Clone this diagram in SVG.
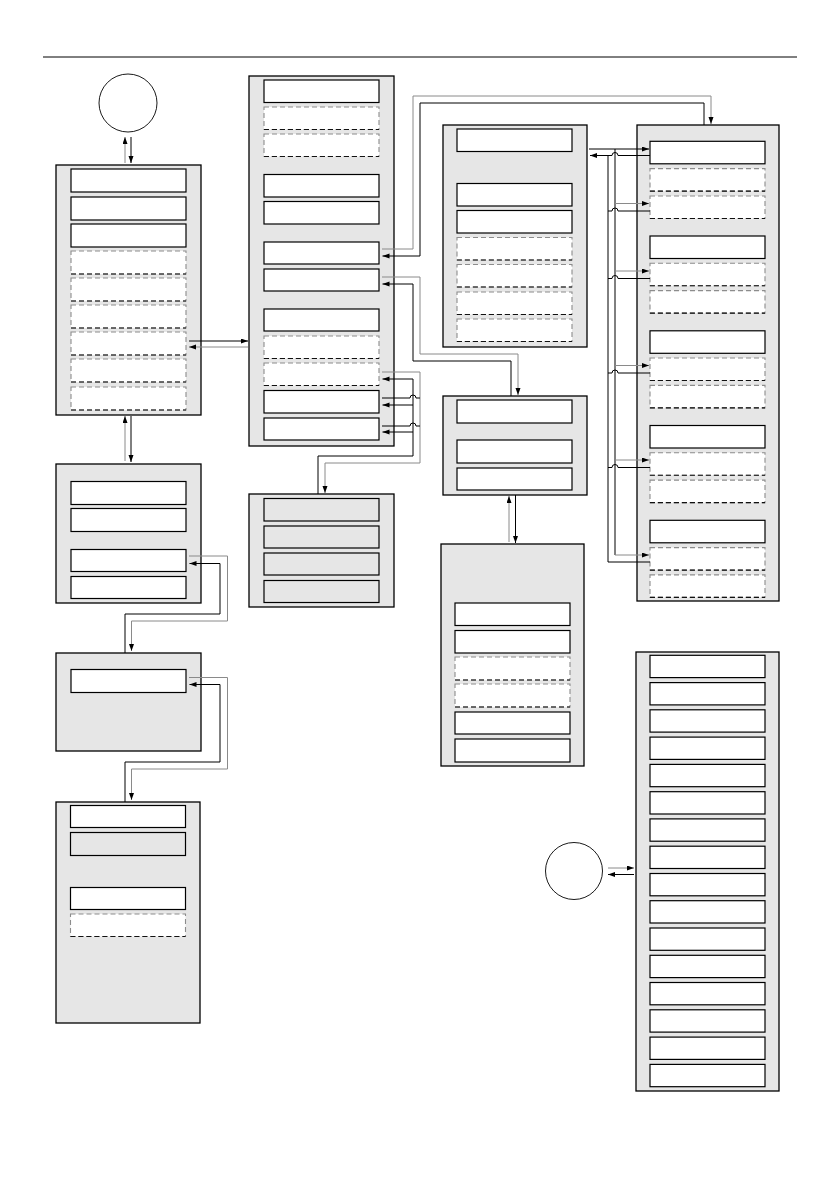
<svg xmlns="http://www.w3.org/2000/svg" width="840" height="1190" viewBox="0 0 840 1190">
<defs>
<marker id="ah" markerUnits="userSpaceOnUse" markerWidth="8" markerHeight="6" refX="7" refY="2.5" orient="auto">
<path d="M0,0 L7,2.5 L0,5 z" fill="#000"/>
</marker>
</defs>
<style>
.box{fill:#e6e6e6;stroke:#000;stroke-width:1.3}
.s{fill:#fff;stroke:#000;stroke-width:1.2}
.sg{fill:#e6e6e6;stroke:#000;stroke-width:1.2}
.d{fill:#fff;stroke:#8c8c8c;stroke-width:1.1;stroke-dasharray:5 3}
.db{stroke:#111;stroke-width:1.1;stroke-dasharray:5 3}
.c{fill:#fff;stroke:#000;stroke-width:0.9}
.k{fill:none;stroke:#000;stroke-width:1}
.g{fill:none;stroke:#8a8a8a;stroke-width:1}
.a{marker-end:url(#ah)}
</style>
<rect width="840" height="1190" fill="#fff"/>
<line x1="43" y1="57" x2="797" y2="57" stroke="#000" stroke-width="1"/>

<g id="circle1"><circle class="c" cx="128" cy="103" r="29"/></g>

<g id="boxA">
<rect class="box" x="56" y="165" width="145" height="250"/>
<rect class="s" x="71" y="169" width="115" height="23"/>
<rect class="s" x="71" y="197" width="115" height="23"/>
<rect class="s" x="71" y="224" width="115" height="23"/>
<rect class="d" x="71" y="251" width="115" height="23"/><line class="db" x1="71" y1="274" x2="186" y2="274"/>
<rect class="d" x="71" y="278" width="115" height="23"/><line class="db" x1="71" y1="301" x2="186" y2="301"/>
<rect class="d" x="71" y="305" width="115" height="23"/><line class="db" x1="71" y1="328" x2="186" y2="328"/>
<rect class="d" x="71" y="332" width="115" height="23"/><line class="db" x1="71" y1="355" x2="186" y2="355"/>
<rect class="d" x="71" y="359" width="115" height="23"/><line class="db" x1="71" y1="382" x2="186" y2="382"/>
<rect class="d" x="71" y="387" width="115" height="23"/><line class="db" x1="71" y1="410" x2="186" y2="410"/>
</g>

<g id="boxB">
<rect class="box" x="249" y="76" width="145" height="370"/>
<rect class="s" x="264" y="80" width="115" height="22.5"/>
<rect class="d" x="264" y="107" width="115" height="22.5"/><line class="db" x1="264" y1="129.5" x2="379" y2="129.5"/>
<rect class="d" x="264" y="134" width="115" height="22.5"/><line class="db" x1="264" y1="156.5" x2="379" y2="156.5"/>
<rect class="s" x="264" y="174.5" width="115" height="22.5"/>
<rect class="s" x="264" y="201.5" width="115" height="22.5"/>
<rect class="s" x="264" y="242" width="115" height="22"/>
<rect class="s" x="264" y="269" width="115" height="22"/>
<rect class="s" x="264" y="309" width="115" height="22"/>
<rect class="d" x="264" y="336" width="115" height="22.5"/><line class="db" x1="264" y1="358.5" x2="379" y2="358.5"/>
<rect class="d" x="264" y="363" width="115" height="22.5"/><line class="db" x1="264" y1="385.5" x2="379" y2="385.5"/>
<rect class="s" x="264" y="390.5" width="115" height="22.5"/>
<rect class="s" x="264" y="418" width="115" height="22"/>
</g>

<g id="boxC">
<rect class="box" x="249" y="494" width="145" height="113"/>
<rect class="sg" x="264" y="498.5" width="115" height="22.5"/>
<rect class="sg" x="264" y="526" width="115" height="22"/>
<rect class="sg" x="264" y="553" width="115" height="22"/>
<rect class="sg" x="264" y="580.5" width="115" height="22"/>
</g>

<g id="boxG">
<rect class="box" x="443" y="125" width="144" height="222"/>
<rect class="s" x="457" y="129" width="115" height="22.5"/>
<rect class="s" x="457" y="183.5" width="115" height="22.5"/>
<rect class="s" x="457" y="210.5" width="115" height="22.5"/>
<rect class="d" x="457" y="237.5" width="115" height="22.5"/><line class="db" x1="457" y1="260" x2="572" y2="260"/>
<rect class="d" x="457" y="264.5" width="115" height="22.5"/><line class="db" x1="457" y1="287" x2="572" y2="287"/>
<rect class="d" x="457" y="292" width="115" height="22.5"/><line class="db" x1="457" y1="314.5" x2="572" y2="314.5"/>
<rect class="d" x="457" y="319" width="115" height="22.5"/><line class="db" x1="457" y1="341.5" x2="572" y2="341.5"/>
</g>

<g id="boxD">
<rect class="box" x="443" y="396" width="144" height="99"/>
<rect class="s" x="457" y="400" width="115" height="23"/>
<rect class="s" x="457" y="440" width="115" height="23"/>
<rect class="s" x="457" y="468" width="115" height="22"/>
</g>

<g id="boxF">
<rect class="box" x="441" y="544" width="143" height="222"/>
<rect class="s" x="455" y="603" width="115" height="22.5"/>
<rect class="s" x="455" y="630.5" width="115" height="22.5"/>
<rect class="d" x="455" y="657" width="115" height="23"/><line class="db" x1="455" y1="680" x2="570" y2="680"/>
<rect class="d" x="455" y="684" width="115" height="23"/><line class="db" x1="455" y1="707" x2="570" y2="707"/>
<rect class="s" x="455" y="712" width="115" height="22"/>
<rect class="s" x="455" y="739" width="115" height="23"/>
</g>

<g id="boxE">
<rect class="box" x="637" y="125" width="142" height="476"/>
<rect class="s" x="650" y="141.3" width="115" height="22.5"/>
<rect class="d" x="650" y="168.6" width="115" height="22.5"/><line class="db" x1="650" y1="191.1" x2="765" y2="191.1"/>
<rect class="d" x="650" y="196" width="115" height="22.5"/><line class="db" x1="650" y1="218.5" x2="765" y2="218.5"/>
<rect class="s" x="650" y="236" width="115" height="22.5"/>
<rect class="d" x="650" y="263.3" width="115" height="22.5"/><line class="db" x1="650" y1="285.8" x2="765" y2="285.8"/>
<rect class="d" x="650" y="290.6" width="115" height="22.5"/><line class="db" x1="650" y1="313.1" x2="765" y2="313.1"/>
<rect class="s" x="650" y="330.8" width="115" height="22.5"/>
<rect class="d" x="650" y="358" width="115" height="22.5"/><line class="db" x1="650" y1="380.5" x2="765" y2="380.5"/>
<rect class="d" x="650" y="385.4" width="115" height="22.5"/><line class="db" x1="650" y1="407.9" x2="765" y2="407.9"/>
<rect class="s" x="650" y="425.5" width="115" height="22.5"/>
<rect class="d" x="650" y="452.8" width="115" height="22.5"/><line class="db" x1="650" y1="475.3" x2="765" y2="475.3"/>
<rect class="d" x="650" y="480.1" width="115" height="22.5"/><line class="db" x1="650" y1="502.6" x2="765" y2="502.6"/>
<rect class="s" x="650" y="520.3" width="115" height="22.5"/>
<rect class="d" x="650" y="547.6" width="115" height="22.5"/><line class="db" x1="650" y1="570.1" x2="765" y2="570.1"/>
<rect class="d" x="650" y="574.9" width="115" height="22.5"/><line class="db" x1="650" y1="597.4" x2="765" y2="597.4"/>
</g>

<g id="boxH">
<rect class="box" x="636" y="652" width="143" height="439"/>
<rect class="s" x="650" y="655.3" width="115" height="22.3"/>
<rect class="s" x="650" y="682.6" width="115" height="22.3"/>
<rect class="s" x="650" y="709.8" width="115" height="22.3"/>
<rect class="s" x="650" y="737.1" width="115" height="22.3"/>
<rect class="s" x="650" y="764.4" width="115" height="22.3"/>
<rect class="s" x="650" y="791.7" width="115" height="22.3"/>
<rect class="s" x="650" y="818.9" width="115" height="22.3"/>
<rect class="s" x="650" y="846.2" width="115" height="22.3"/>
<rect class="s" x="650" y="873.5" width="115" height="22.3"/>
<rect class="s" x="650" y="900.7" width="115" height="22.3"/>
<rect class="s" x="650" y="928" width="115" height="22.3"/>
<rect class="s" x="650" y="955.3" width="115" height="22.3"/>
<rect class="s" x="650" y="982.5" width="115" height="22.3"/>
<rect class="s" x="650" y="1009.8" width="115" height="22.3"/>
<rect class="s" x="650" y="1037.1" width="115" height="22.3"/>
<rect class="s" x="650" y="1064.4" width="115" height="22.3"/>
</g>

<g id="circle2"><circle class="c" cx="574" cy="871" r="28.5"/></g>

<g id="boxJ">
<rect class="box" x="56" y="464" width="145" height="139"/>
<rect class="s" x="71" y="481.5" width="115" height="23"/>
<rect class="s" x="71" y="508.5" width="115" height="23"/>
<rect class="s" x="71" y="549.5" width="115" height="22"/>
<rect class="s" x="71" y="576.5" width="115" height="22"/>
</g>

<g id="boxK">
<rect class="box" x="56" y="653" width="145" height="98"/>
<rect class="s" x="71" y="669.5" width="115" height="23"/>
</g>

<g id="boxL">
<rect class="box" x="56" y="802" width="144" height="221"/>
<rect class="s" x="70.5" y="805.5" width="115" height="22"/>
<rect class="sg" x="70.5" y="832.5" width="115" height="23"/>
<rect class="s" x="70.5" y="887.5" width="115" height="22"/>
<rect class="d" x="70.5" y="914" width="115" height="22.5"/><line class="db" x1="70.5" y1="936.5" x2="185.5" y2="936.5"/>
</g>

<g id="connectors">
<path class="g a" d="M125,163 V137"/>
<path class="k a" d="M131,137 V163"/>
<path class="k a" d="M189,341 H248"/>
<path class="g a" d="M248,347 H189"/>
<path class="g a" d="M125,461 V416"/>
<path class="k a" d="M131,416 V462"/>
<path class="g a" d="M189,556 H227.5 V621 H131.5 V651"/>
<path class="k a" d="M125,653 V614 H220 V563.5 H189.5"/>
<path class="g a" d="M189,677.5 H227.5 V769 H131.5 V800"/>
<path class="k a" d="M125,802 V762 H220 V684.5 H189.5"/>
<path class="g a" d="M382,249 H413 V96 H711 V124"/>
<path class="k a" d="M704,125 V103 H420 V256 H382.5"/>
<path class="g a" d="M382,277 H420 V354 H518 V395"/>
<path class="k a" d="M511,396 V361 H413 V284 H382.5"/>
<path class="g a" d="M382,372 H420 V463 H325 V493"/>
<path class="k a" d="M318,494 V456 H413 V379 H382.5"/>
<path class="k" d="M382,398 H410 a3,3 0 0 1 6,0 H420"/>
<path class="k a" d="M413,405 H382.5"/>
<path class="k" d="M382,426 H410 a3,3 0 0 1 6,0 H420"/>
<path class="k a" d="M413,432 H382.5"/>
<path class="g a" d="M509,542 V496"/>
<path class="k a" d="M515.5,495 V543"/>
<path class="k a" d="M589,149 H649"/>
<path class="k a" d="M650,155.5 H618 a3,3 0 0 0 -6,0 H590"/>
<path class="k" d="M615,149 V555"/>
<path class="k" d="M608,155.5 V562"/>
<path class="g a" d="M615,203.5 H649"/>
<path class="k" d="M608,211 H612 a3,3 0 0 1 6,0 H650"/>
<path class="g a" d="M615,271 H649"/>
<path class="k" d="M608,278.5 H612 a3,3 0 0 1 6,0 H650"/>
<path class="g a" d="M615,365.5 H649"/>
<path class="k" d="M608,373 H612 a3,3 0 0 1 6,0 H650"/>
<path class="g a" d="M615,460 H649"/>
<path class="k" d="M608,467.5 H612 a3,3 0 0 1 6,0 H650"/>
<path class="g a" d="M615,555 H649"/>
<path class="k" d="M608,562 H650"/>
<path class="g a" d="M608,868 H634"/>
<path class="k a" d="M634,874.5 H608"/>
</g>
</svg>
